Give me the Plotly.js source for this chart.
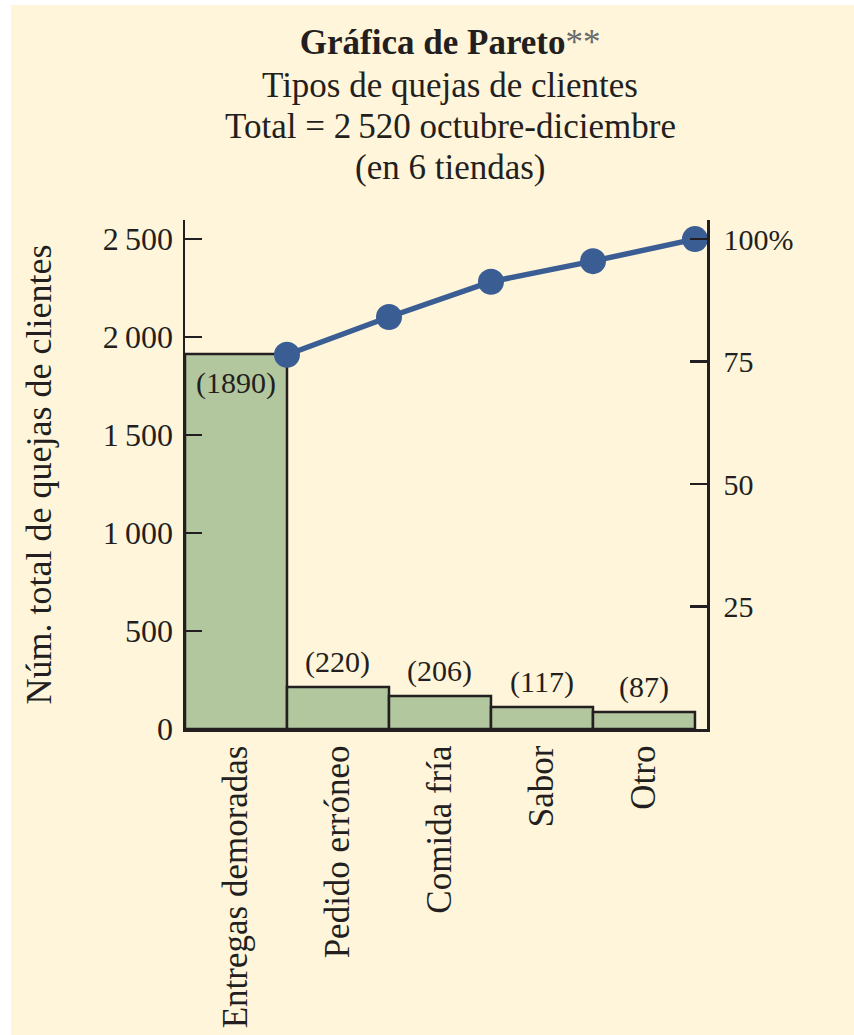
<!DOCTYPE html>
<html>
<head>
<meta charset="utf-8">
<script src="https://cdn.plot.ly/plotly-3.0.1.min.js"></script>
<style>
  html, body { margin: 0; padding: 0; background: #ffffff; width: 854px; height: 1035px; overflow: hidden; }
  #chart { position: absolute; left: 11px; top: 5px; width: 843px; height: 1030px; }
</style>
</head>
<body>
<div id="chart"></div>
<script>
// ---- data ----
const categories = ["Entregas demoradas", "Pedido erróneo", "Comida fría", "Sabor", "Otro"];
const barHeights = [1913, 214, 168, 112, 87];          // drawn bar heights
const countLabels = ["(1890)", "(220)", "(206)", "(117)", "(87)"];
const cumulativePct = [76.4, 84.1, 91.3, 95.5, 100];  // cumulative % line
const leftTickVals = [0, 500, 1000, 1500, 2000, 2500];
const leftTickText = ["0", "500", "1\u2009000", "1\u2009500", "2\u2009000", "2\u2009500"];
const rightTickVals = [25, 50, 75, 100];
const rightTickText = ["25", "50", "75", "100%"];
const subtitleLines = ["Tipos de quejas de clientes", "Total = 2\u2009520 octubre-diciembre", "(en 6 tiendas)"];

const ink = "#231f20";
const font = "Liberation Serif, Times New Roman, serif";

const idx = categories.map((_, i) => i);

const bars = {
  type: "bar",
  x: idx,
  y: barHeights,
  width: 1,
  marker: { color: "#b3c79f", line: { color: ink, width: 2.5 } },
  hoverinfo: "skip",
  showlegend: false
};

const line = {
  type: "scatter",
  mode: "lines+markers",
  x: idx.map(i => i + 0.5),
  y: cumulativePct,
  yaxis: "y2",
  line: { color: "#3a5d94", width: 5.5 },
  marker: { color: "#3a5d94", size: 26 },
  cliponaxis: false,
  hoverinfo: "skip",
  showlegend: false
};

const annotations = countLabels.map((t, i) => ({
  x: i, y: barHeights[i], xref: "x", yref: "y",
  text: t, showarrow: false,
  yanchor: "middle", xanchor: "center",
  yshift: i === 0 ? -29 : 25,
  font: { family: font, size: 30, color: ink }
}));

const subtitleY = [1.265, 1.183, 1.104];
subtitleLines.forEach((t, i) => annotations.push({
  x: 0.508, y: subtitleY[i], xref: "paper", yref: "paper",
  text: t, showarrow: false, xanchor: "center", yanchor: "middle",
  font: { family: font, size: 35, color: ink }
}));

const layout = {
  width: 843, height: 1030,
  margin: { l: 174, r: 147, t: 215, b: 306 },
  paper_bgcolor: "#fef5da",
  plot_bgcolor: "rgba(0,0,0,0)",
  font: { family: font, color: ink },
  title: {
    text: "<b>Gráfica de Pareto</b><span style='color:#6a6a6a'>**</span>",
    font: { family: font, size: 35, color: ink },
    x: 0.521, xanchor: "center",
    y: 0.964, yanchor: "middle", yref: "container"
  },
  xaxis: {
    range: [-0.5, 4.618],
    tickmode: "array", tickvals: idx, ticktext: categories,
    tickangle: -90,
    ticks: "", showgrid: false, zeroline: false,
    showline: true, linecolor: ink, linewidth: 2.5,
    tickfont: { family: font, size: 35, color: ink },
    fixedrange: true
  },
  yaxis: {
    range: [0, 2597],
    tickmode: "array", tickvals: leftTickVals, ticktext: leftTickText,
    ticks: "inside", ticklen: 17, tickwidth: 2.5, tickcolor: ink,
    showgrid: false, zeroline: false,
    showline: true, linecolor: ink, linewidth: 2.5,
    tickfont: { family: font, size: 32, color: ink },
    ticklabelstandoff: 3,
    title: { text: "Núm. total de quejas de clientes", font: { family: font, size: 36, color: ink }, standoff: 40 },
    fixedrange: true
  },
  yaxis2: {
    overlaying: "y", side: "right",
    range: [0, 103.9],
    tickmode: "array", tickvals: rightTickVals, ticktext: rightTickText,
    ticks: "inside", ticklen: 17, tickwidth: 2.5, tickcolor: ink,
    showgrid: false, zeroline: false,
    showline: true, linecolor: ink, linewidth: 2.5,
    tickfont: { family: font, size: 30, color: ink },
    ticklabelstandoff: 8,
    fixedrange: true
  },
  annotations: annotations
};

Plotly.newPlot("chart", [bars, line], layout, { displayModeBar: false, staticPlot: true });
</script>
</body>
</html>
